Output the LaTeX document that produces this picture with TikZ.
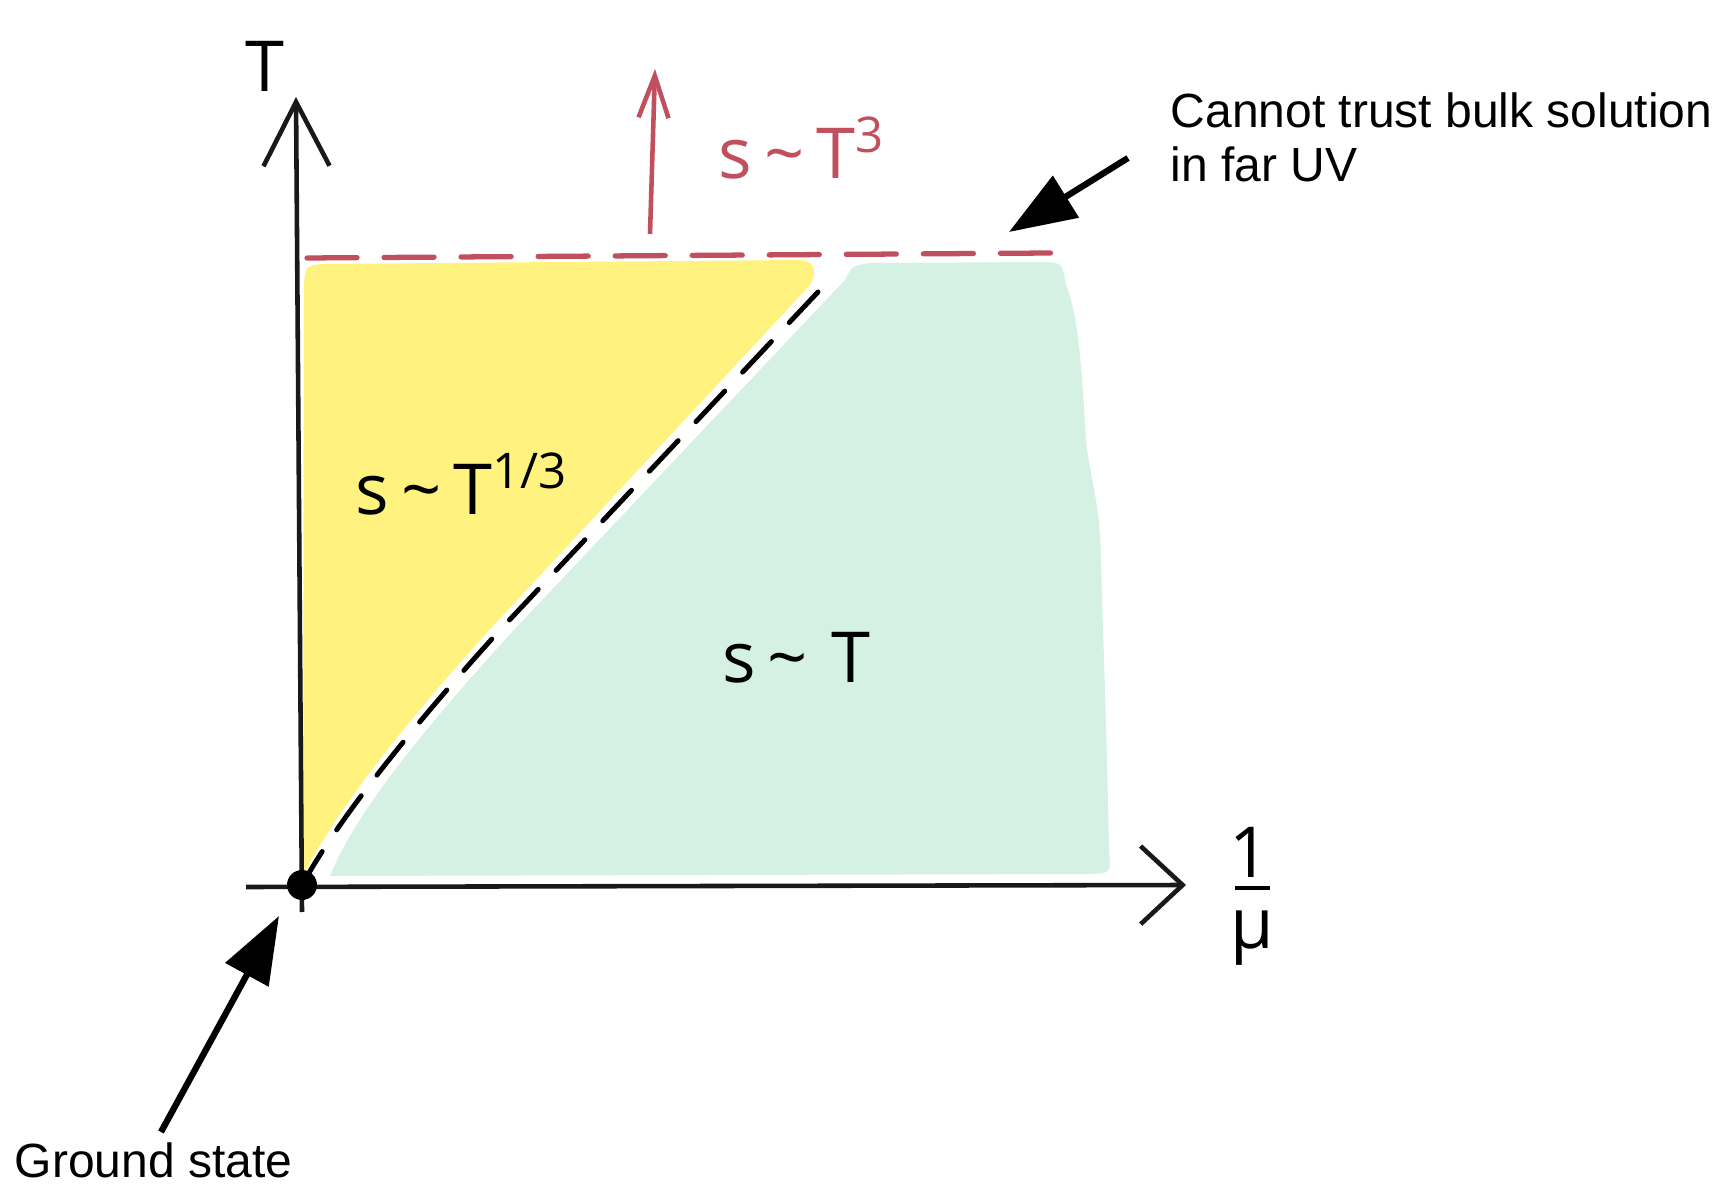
\documentclass[tikz,border=0pt]{standalone}
\usepackage{fontspec}
\setmainfont{Liberation Sans}
\newfontfamily\handfont{Open Sans}
\usetikzlibrary{arrows.meta}
\definecolor{yel}{HTML}{FFF27F}
\definecolor{grn}{HTML}{D5F1E3}
\definecolor{redl}{HTML}{C0505E}
\newcommand{\htilde}{{\char"7E}}
\begin{document}
\begin{tikzpicture}[x=0.01cm,y=-0.01cm,
  axis/.style={line width=1.3pt, black!90},
  annot/.style={line width=1.8pt, -{Triangle[length=0.67cm,width=0.48cm]}},
  lbl/.style={font=\fontsize{13.65}{15.5}\selectfont, inner sep=0pt},
  hand/.style={font=\handfont\fontsize{20}{24}\selectfont, inner sep=0pt}]
\useasboundingbox (0,0) rectangle (1734,1186);
% yellow region
\fill[yel] (304,300) .. controls (304,266) .. (322,264) -- (800,260)
  .. controls (814,260) and (818,272) .. (810,285)
  -- (493,626) .. controls (413,714) and (338,806) .. (303,876)
  -- cycle;
% green region
\fill[grn] (330,876) .. controls (355,812) and (430,722) .. (512,632)
  -- (845,280) .. controls (852,266) .. (870,263) -- (1046,262)
  .. controls (1062,263) .. (1066,285)
  .. controls (1080,320) and (1082,380) .. (1086,440)
  .. controls (1090,480) and (1100,500) .. (1101,560)
  .. controls (1103,640) and (1106,700) .. (1109,850)
  .. controls (1111,873) .. (1090,874) -- cycle;
% black dashed boundary
\draw[line width=1.4pt, dash pattern=on 0.42cm off 0.26cm, line cap=round]
  (818,292) -- (500,630) .. controls (420,718) and (345,810) .. (306,878);
% red dashed line
\draw[redl, line width=1.5pt, dash pattern=on 0.5cm off 0.27cm, line cap=round] (307,258) -- (1052,253);
% axes
\coordinate (orig) at (302,885);
\coordinate (ybot) at (302,912);
\coordinate (ytop) at (296,97);
\coordinate (xleft) at (246,887);
\coordinate (xright) at (1186,885);
\draw[axis, -{Straight Barb[length=0.64cm,width=0.66cm]}] (ybot) -- (ytop);
\draw[axis, -{Straight Barb[length=0.42cm,width=0.78cm]}] (xleft) -- (xright);
\fill (orig) circle (15);
% red arrow
\coordinate (rtail) at (650,234);
\coordinate (rtip) at (655,69);
\draw[redl, line width=1.3pt, -{Straight Barb[length=0.42cm,width=0.3cm]}] (rtail) -- (rtip);
% hand labels
\node[hand] (tlab) at (265,66) {T};
\node[hand, text=redl] (sT3) at (802,148) {s\,\htilde\,T\textsuperscript{3}};
\node[hand] (sT13) at (462,484) {s\,\htilde\,T\textsuperscript{1/3}};
\node[hand] (sT) at (796,658) {s\,\htilde\,\,T};
\node[hand] (one) at (1250,852) {1};
\node[hand] (mu) at (1252,938) {μ};
\draw[line width=1.3pt] (1235,888) -- (1270,888);
% annotations
\node[lbl, align=left, anchor=north west] (uv) at (1170,92) {Cannot trust bulk solution\\in far UV};
\coordinate (uvtail) at (1128,158);
\coordinate (uvtip) at (1009,232);
\draw[annot] (uvtail) -- (uvtip);
\node[lbl, anchor=base west] (gs) at (14,1177) {Ground state};
\coordinate (gstail) at (161,1132);
\coordinate (gstip) at (279,916);
\draw[annot] (gstail) -- (gstip);
\end{tikzpicture}
\end{document}
